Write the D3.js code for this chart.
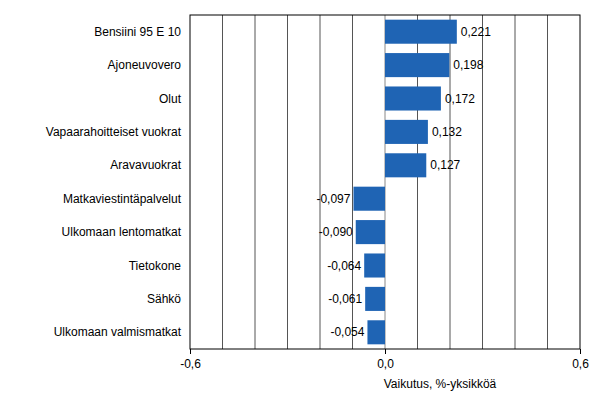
<!DOCTYPE html>
<html><head><meta charset="utf-8">
<script src="https://cdn.jsdelivr.net/npm/d3@7"></script>
<style>body{margin:0;background:#fff}text{font-family:"Liberation Sans",Arial,sans-serif;font-size:12px;fill:#000}</style>
</head><body><svg id="c" width="607" height="418"></svg>
<script>
const categories=["Bensiini 95 E 10","Ajoneuvovero","Olut","Vapaarahoitteiset vuokrat","Aravavuokrat","Matkaviestintäpalvelut","Ulkomaan lentomatkat","Tietokone","Sähkö","Ulkomaan valmismatkat"];
const values=[0.221,0.198,0.172,0.132,0.127,-0.097,-0.090,-0.064,-0.061,-0.054];
const tickValues=[-0.6,0,0.6];
const tickLabels=["-0,6","0,0","0,6"];
const svg=d3.select("#c");
const L=190,R=580,T=15,B=349;
const x=d3.scaleLinear().domain([-0.6,0.6]).range([L,R]);
const y=d3.scaleBand().domain(categories).range([T,B]).paddingInner(0.28).paddingOuter(0.14);
const grid=d3.range(-5,6).map(i=>i/10);
svg.selectAll(".g").data(grid).join("line").attr("x1",d=>x(d)).attr("x2",d=>x(d)).attr("y1",T).attr("y2",B).attr("stroke",d=>d===0?"#888":"#555").attr("stroke-width",1);
svg.selectAll(".b").data(values).join("rect").attr("x",d=>x(Math.min(0,d))).attr("width",d=>Math.abs(x(d)-x(0))).attr("y",(d,i)=>y(categories[i])).attr("height",y.bandwidth()).attr("fill","#1f64b4");
svg.append("rect").attr("x",L).attr("y",T).attr("width",R-L).attr("height",B-T).attr("fill","none").attr("stroke","#000");
svg.selectAll(".v").data(values).join("text").attr("x",d=>d>=0?x(d)+4:x(d)-3).attr("text-anchor",d=>d>=0?"start":"end").attr("y",(d,i)=>y(categories[i])+y.bandwidth()/2+4).text(d=>d3.format(".3f")(d).replace("−","-").replace(".",","));
svg.selectAll(".c").data(categories).join("text").attr("x",L-9).attr("text-anchor","end").attr("y",d=>y(d)+y.bandwidth()/2+4).text(d=>d);
const ax=svg.append("g").attr("transform",`translate(0,${B})`).call(d3.axisBottom(x).tickValues(tickValues).tickSize(5).tickFormat((d,i)=>tickLabels[i]));
ax.select(".domain").remove();
ax.selectAll("text").style("font-size","12px").style("font-family","Liberation Sans,Arial,sans-serif").attr("dy","0.9em");
svg.append("text").attr("x",440).attr("y",388).attr("text-anchor","middle").text("Vaikutus, %-yksikköä");
</script></body></html>
